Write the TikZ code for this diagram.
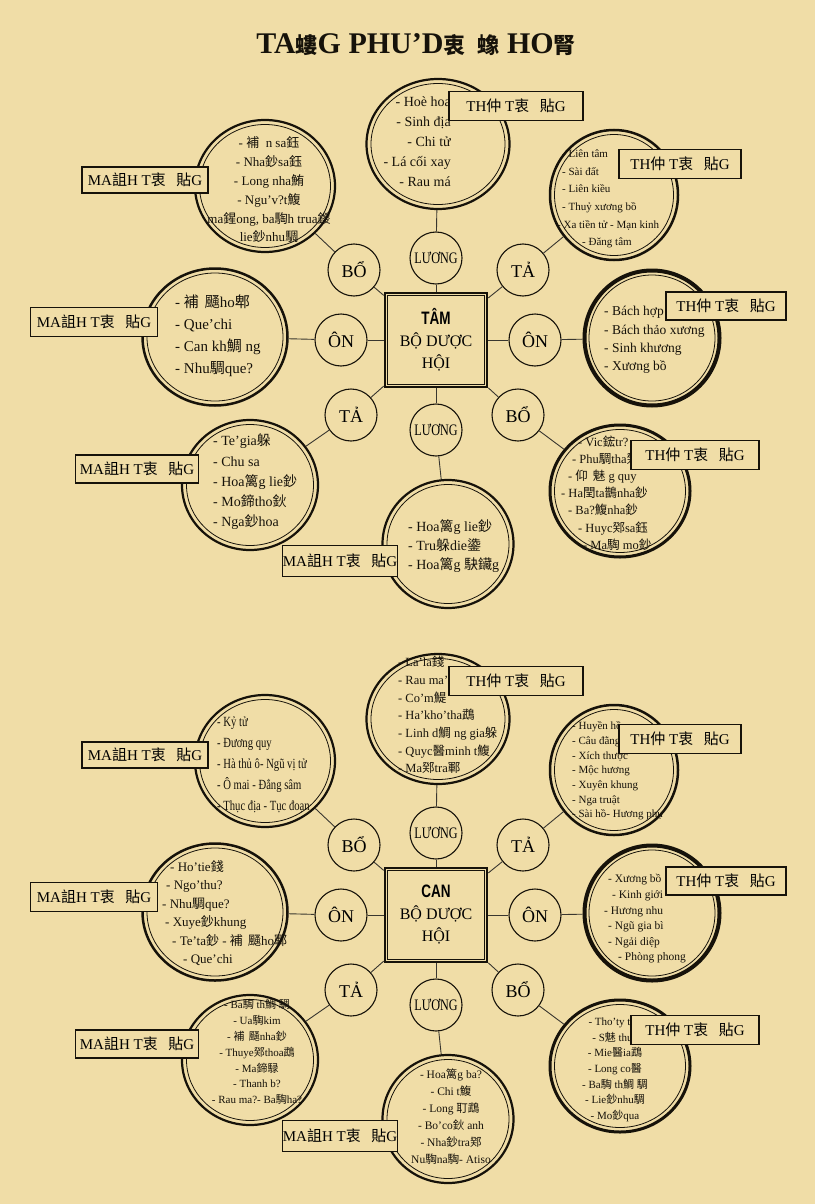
\documentclass[tikz,border=0pt]{standalone}
\usepackage{fontspec}
\setmainfont{Liberation Serif}
\newfontfamily\hanzi{Noto Sans CJK SC}
\newfontfamily\narrowserif[FakeStretch=0.76]{Liberation Serif}
\newfontfamily\narrowsans[FakeStretch=0.75]{Liberation Sans}
\usetikzlibrary{shapes.geometric}

\definecolor{parch}{RGB}{240,221,167}
\definecolor{ink}{RGB}{22,18,10}

% garbled glyphs of the scan
\newcommand\hz[1]{{\hanzi #1}}
\newcommand\thtag{TH\hz{仲} T\hz{衷}\hspace{0.7em}\hz{貼}G}
\newcommand\matag{MA\hz{詛}H T\hz{衷}\hspace{0.7em}\hz{貼}G}
\newcommand\luongtxt{{\narrowserif\fontsize{16}{16}\selectfont LƯƠNG}}

\begin{document}
\begin{tikzpicture}[
    x=1pt, y=-1pt,
    % --- node styles -------------------------------------------------
    hubbox/.style={
        draw=ink, line width=2.6pt, fill=parch,
        minimum width=102pt, minimum height=94pt, inner sep=0pt,
        align=center, font=\fontsize{16}{22}\selectfont
    },
    kind/.style={
        circle, draw=ink, line width=1.1pt, fill=parch,
        minimum size=52pt, inner sep=0pt, font=\fontsize{18}{18}\selectfont
    },
    herb/.style={ellipse, draw=ink, fill=parch, inner sep=0pt},
    tag/.style={
        draw=ink, line width=1.8pt, fill=parch,
        minimum height=29pt, inner sep=0pt, font=\fontsize{15}{15}\selectfont
    },
    list/.style={inner sep=0pt, text=ink},
    link/.style={draw=ink!85, line width=0.9pt}
]

\path[fill=parch, use as bounding box] (0,0) rectangle (815,1204);

% --- title ---------------------------------------------------------
\node[text=ink, font=\fontsize{30}{30}\selectfont\bfseries] (title) at (416,45)
    {TA{\hanzi\fontsize{22}{22}\selectfont 螻}G PHU'D{\hanzi\fontsize{22}{22}\selectfont 衷}\hspace{0.4em}{\hanzi\fontsize{22}{22}\selectfont 蟓} HO{\hanzi\fontsize{22}{22}\selectfont 腎}};

% --- the two hubs (TAM above, CAN below) ----------------------------
\foreach \s/\dy/\organ in {a/0/TÂM, b/575/CAN}{
\begin{scope}[shift={(0,\dy)}]
    \node[hubbox] (hub\s) at (436,340)
        {{\narrowsans\bfseries\fontsize{18}{22}\selectfont\organ}\\BỘ DƯỢC\\HỘI};
    \draw[ink, line width=0.9pt] ([shift={(4,4)}]hub\s.north west)
        rectangle ([shift={(-4,-4)}]hub\s.south east);

    % small circles round the hub
    \node[kind] (up\s) at (436,258) {\luongtxt};
    \node[kind] (ul\s) at (354,270) {BỔ};
    \node[kind] (ur\s) at (523,270) {TẢ};
    \node[kind] (ml\s) at (341,340) {ÔN};
    \node[kind] (mr\s) at (535,340) {ÔN};
    \node[kind] (dl\s) at (351,415) {TẢ};
    \node[kind] (dn\s) at (436,430) {\luongtxt};
    \node[kind] (dr\s) at (518,415) {BỔ};

    % big double circles
    \foreach \n/\cx/\cy/\w/\h/\lw in {up/438/144/143/130/2.2, ul/265/186/140/132/2.2,
        ur/614/195/128/130/2.5, ml/215/337/145/137/2.5, mr/652/338/135/135/4,
        dl/250/485/136/130/2.2, dr/620/491/140/132/3, dn/448/544/131/128/2.2}{
        \node[herb, line width=\lw pt, minimum width=\w pt, minimum height=\h pt]
            (pot\n\s) at (\cx,\cy) {};
        \draw[ink, line width=0.8pt] (pot\n\s.center)
            ellipse [x radius=\w/2-4.5, y radius=\h/2-4.5];
    }

    % connectors
    \foreach \n in {up,ul,ur,ml,mr,dl,dr,dn}{
        \draw[link] (hub\s) -- (\n\s);
        \draw[link] (\n\s) -- (pot\n\s);
    }
\end{scope}
}

% --- lists, upper hub -----------------------------------------------
\node[list, anchor=east, align=right, font=\fontsize{14}{20}\selectfont] (lupa) at (451,142)
    {- Hoè hoa\\- Sinh địa\\- Chi tử\\- Lá cối xay\\- Rau má};
\node[list, align=center, font=\fontsize{13}{18.8}\selectfont] (lula) at (269,190)
    {- \hz{補}\hspace{0.5em}n sa\hz{鈺}\\- Nha\hz{鈔}sa\hz{鈺}\\- Long nha\hz{鮪}\\- Ngu'v?t\hz{鰒}\\
     ma\hz{鍟}ong, ba\hz{騊}h trua\hz{鍐}\\lie\hz{鈔}nhu\hz{騆}};
\node[list, anchor=west, align=left, font=\fontsize{11}{17.6}\selectfont] (lura) at (562,199)
    {- Liên tâm\\- Sài đất\\- Liên kiều\\- Thuỷ xương bồ\\\hspace*{-5pt}- Xa tiền tử - Mạn kinh\\
     \hspace*{20pt}- Đăng tâm};
\node[list, anchor=west, align=left, font=\fontsize{15}{22}\selectfont] (lmla) at (175,336)
    {- \hz{補}\hspace{0.4em}\hz{颾}ho\hz{郫}\\- Que'chi\\- Can kh\hz{鯛} ng\\- Nhu\hz{騆}que?};
\node[list, anchor=west, align=left, font=\fontsize{13.5}{18.3}\selectfont] (lmra) at (604,340)
    {- Bách hợp\\- Bách thảo xương\\- Sinh khương\\- Xương bồ};
\node[list, anchor=west, align=left, font=\fontsize{14}{20.2}\selectfont] (ldla) at (213,482)
    {- Te'gia\hz{躲}\\- Chu sa\\- Hoa\hz{篱}g lie\hz{鈔}\\- Mo\hz{鍗}tho\hz{鈥}\\- Nga\hz{鈔}hoa};
\node[list, anchor=west, align=left, font=\fontsize{12.5}{17.2}\selectfont] (ldra) at (561,493)
    {\hspace*{17pt}- Vic\hz{鋐}tr?\\\hspace*{11pt}- Phu\hz{騆}tha\hz{鄈}\\
     \hspace*{7pt}- \hz{仰}\hspace{0.4em}\hz{魅} g quy\\- Ha\hz{閏}ta\hz{鵲}nha\hz{鈔}\\
     \hspace*{7pt}- Ba?\hz{鰒}nha\hz{鈔}\\\hspace*{17pt}- Huyc\hz{鄈}sa\hz{鈺}\\
     \hspace*{22pt}- Ma\hz{騊} mo\hz{鈔}};
\node[list, anchor=west, align=left, font=\fontsize{14}{19}\selectfont] (ldna) at (408,546)
    {- Hoa\hz{篱}g lie\hz{鈔}\\- Tru\hz{躲}die\hz{鍌}\\- Hoa\hz{篱}g \hz{駃}\hz{鑶}g};

% --- lists, lower hub -----------------------------------------------
\node[list, anchor=west, align=left, font=\fontsize{12.5}{17.7}\selectfont] (lupb) at (398,715)
    {- La'la\hz{錢}\\- Rau ma'\\- Co'm\hz{鯷}\\- Ha'kho'tha\hz{鵡}\\- Linh d\hz{鯛} ng gia\hz{躲}\\
     - Quyc\hz{醫}minh t\hz{鰒}\\- Ma\hz{鄈}tra\hz{鄆}};
\node[list, anchor=west, align=left, font=\narrowserif\fontsize{14}{21}\selectfont] (lulb) at (217,765)
    {- Kỷ tử\\- Đương quy\\- Hà thủ ô- Ngũ vị tử\\- Ô mai - Đẳng sâm\\- Thục địa - Tục đoạn};
\node[list, anchor=west, align=left, font=\fontsize{11}{14.7}\selectfont] (lurb) at (572,771)
    {- Huyền hồ\\- Câu đằng\\- Xích thược\\- Mộc hương\\- Xuyên khung\\- Nga truật\\
     - Sài hồ- Hương phụ};
\node[list, anchor=west, align=left, font=\fontsize{13}{18.4}\selectfont] (lmlb) at (162,913)
    {\hspace*{8pt}- Ho'tie\hz{錢}\\\hspace*{4pt}- Ngo'thu?\\- Nhu\hz{騆}que?\\
     \hspace*{3pt}- Xuye\hz{鈔}khung\\\hspace*{10pt}- Te'ta\hz{鈔} - \hz{補}\hspace{0.4em}\hz{颾}ho\hz{鄆}\\
     \hspace*{21pt}- Que'chi};
\node[list, anchor=west, align=left, font=\fontsize{11.5}{15.6}\selectfont] (lmrb) at (604,919)
    {\hspace*{4pt}- Xương bồ\\\hspace*{8pt}- Kinh giới\\- Hương nhu\\\hspace*{4pt}- Ngũ gia bì\\
     \hspace*{4pt}- Ngải diệp\\\hspace*{14pt}- Phòng phong};
\node[list, align=center, font=\fontsize{11}{15.8}\selectfont] (ldlb) at (257,1052)
    {- Ba\hz{騊} th\hz{鯛} \hz{騆}\\- Ua\hz{騊}kim\\- \hz{補}\hspace{0.4em}\hz{颾}nha\hz{鈔}\\
     - Thuye\hz{鄈}thoa\hz{鵡}\\- Ma\hz{鍗}\hz{騄}\\- Thanh b?\\- Rau ma?- Ba\hz{騊}ha?};
\node[list, align=center, font=\fontsize{11}{15.7}\selectfont] (ldrb) at (615,1069)
    {- Tho'ty t\hz{鰒}\\- S\hz{魅} thu?\\- Mie\hz{醫}ia\hz{鵡}\\- Long co\hz{醫}\\
     - Ba\hz{騊} th\hz{鯛} \hz{騆}\\- Lie\hz{鈔}nhu\hz{騆}\\- Mo\hz{鈔}qua};
\node[list, align=center, font=\fontsize{11.5}{17}\selectfont] (ldnb) at (451,1117)
    {- Hoa\hz{篱}g ba?\\- Chi t\hz{鰒}\\- Long \hz{耵}\hz{鵡}\\- Bo'co\hz{鈥} anh\\
     - Nha\hz{鈔}tra\hz{鄈}\\Nu\hz{騊}na\hz{騊}- Atiso};

% --- tags on the circles --------------------------------------------
\foreach \s/\dy in {a/0, b/575}{
\begin{scope}[shift={(0,\dy)}]
    \node[tag, minimum width=134pt] (tagup\s) at (516,106) {\thtag};
    \node[tag, minimum width=122pt] (tagur\s) at (680,164) {\thtag};
    \node[tag, minimum width=126pt, minimum height=26pt] (tagul\s) at (145,180) {\matag};
    \node[tag, minimum width=127pt] (tagml\s) at (94,322) {\matag};
    \node[tag, minimum width=120pt, minimum height=28pt] (tagmr\s) at (726,306) {\thtag};
    \node[tag, minimum width=123pt, minimum height=28pt] (tagdl\s) at (137,469) {\matag};
    \node[tag, minimum width=128pt] (tagdr\s) at (695,455) {\thtag};
    \node[tag, minimum width=115pt, minimum height=31pt] (tagdn\s) at (340,561) {\matag};
\end{scope}
}

\end{tikzpicture}
\end{document}
